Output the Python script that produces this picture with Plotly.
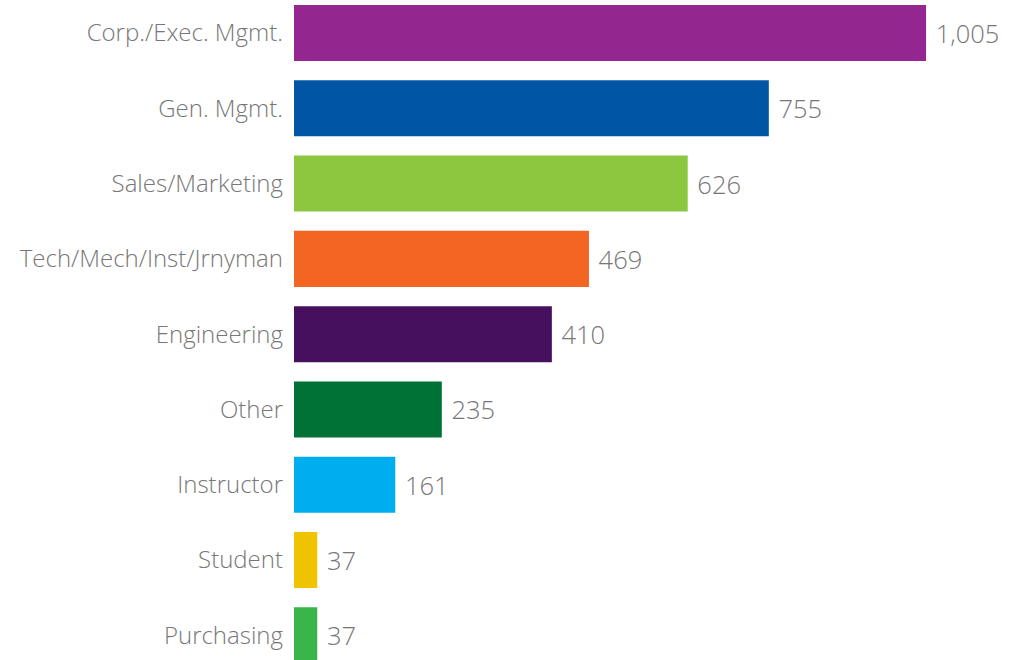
import plotly.graph_objects as go

categories = ["Corp./Exec. Mgmt.", "Gen. Mgmt.", "Sales/Marketing", "Tech/Mech/Inst/Jrnyman",
              "Engineering", "Other", "Instructor", "Student", "Purchasing"]
values = [1005, 755, 626, 469, 410, 235, 161, 37, 37]
colors = ["#93278F", "#0055A5", "#8DC63F", "#F26522", "#46105F", "#007236", "#00AEEF", "#F0C300", "#39B54A"]
value_labels = [f"{v:,}" for v in values]

fig = go.Figure(go.Bar(
    x=values, y=categories, orientation="h",
    marker=dict(color=colors, line=dict(width=0)),
    text=value_labels, textposition="outside", cliponaxis=False,
    texttemplate=" %{text}",
    textfont=dict(family="Open Sans", size=25.5, color="#777777", weight=300),
    hoverinfo="skip",
))
fig.update_layout(
    width=1016, height=660,
    margin=dict(l=294, r=0, t=0, b=0, autoexpand=False),
    paper_bgcolor="white", plot_bgcolor="white",
    bargap=0.256, showlegend=False,
    font=dict(family="Open Sans", size=24, color="#777777"),
)
fig.update_xaxes(range=[0, 1148], visible=False, showgrid=False, zeroline=False, automargin=False)
fig.update_yaxes(type="category", categoryorder="array", categoryarray=categories,
                 range=[8.327, -0.438], showgrid=False, zeroline=False, showline=False,
                 ticks="", ticklabelstandoff=10, automargin=False,
                 tickfont=dict(family="Open Sans", size=24, color="#777777", weight=300))
fig.write_html("out.html", config={"displayModeBar": False},
               post_script="document.body.style.margin='0';document.body.style.overflow='hidden';")
